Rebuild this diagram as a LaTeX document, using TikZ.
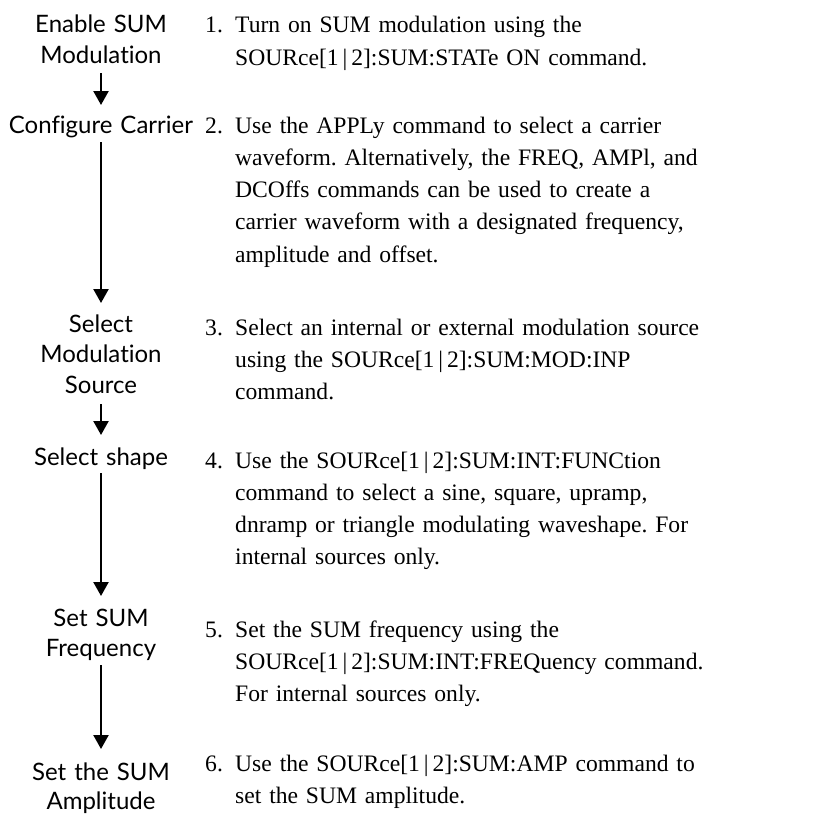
\documentclass[tikz,border=0pt]{standalone}
\usepackage{fontspec}
\setmainfont{Liberation Serif}
\newfontfamily\labfont[Ligatures=NoCommon]{Lato}
\usetikzlibrary{arrows.meta}
\frenchspacing
\newcommand{\pp}{[1\,|\,2]}
\tikzset{
  lab/.style={font=\labfont\fontsize{24}{30.5}\selectfont, align=center, text width=220pt, anchor=base, inner sep=0pt},
  num/.style={font=\fontsize{23.6}{32.3}\selectfont, anchor=base west, inner sep=0pt},
  body/.style={font=\fontsize{23.6}{32.3}\selectfont, anchor=base west, inner sep=0pt, text width=560pt, align=left},
  arr/.style={line width=2.3pt, -{Triangle[width=15pt,length=14pt]}}
}
\begin{document}
\begin{tikzpicture}[x=1pt,y=-1pt]
\useasboundingbox (0,0) rectangle (815,816);
% left labels
\node[lab] (l1) at (101,33) {Enable SUM\\Modulation};
\node[lab] (l2) at (101,133) {Configure Carrier};
\node[lab] (l3) at (101,332) {Select\\Modulation\\Source};
\node[lab] (l4) at (101,465) {Select shape};
\node[lab] (l5) at (101,626) {Set SUM\\Frequency};
\node[lab, font=\labfont\fontsize{24}{29}\selectfont] (l6) at (101,780) {Set the SUM\\Amplitude};
% arrow ends
\coordinate (a1s) at (101,73);  \coordinate (a1e) at (101,105);
\coordinate (a2s) at (101,142); \coordinate (a2e) at (101,303);
\coordinate (a3s) at (101,404); \coordinate (a3e) at (101,435);
\coordinate (a4s) at (101,473); \coordinate (a4e) at (101,596);
\coordinate (a5s) at (101,665); \coordinate (a5e) at (101,749);
\draw[arr] (a1s) -- (a1e);
\draw[arr] (a2s) -- (a2e);
\draw[arr] (a3s) -- (a3e);
\draw[arr] (a4s) -- (a4e);
\draw[arr] (a5s) -- (a5e);
% numbers
\node[num] (n1) at (205,33) {1.};
\node[num] (n2) at (205,133) {2.};
\node[num] (n3) at (205,335) {3.};
\node[num] (n4) at (205,468) {4.};
\node[num] (n5) at (205,637) {5.};
\node[num] (n6) at (205,771) {6.};
% body text
\node[body] (t1) at (235,33) {Turn on SUM modulation using the\\SOURce\pp:SUM:STATe ON command.};
\node[body] (t2) at (235,133) {Use the APPLy command to select a carrier\\waveform. Alternatively, the FREQ, AMPl, and\\DCOffs commands can be used to create a\\carrier waveform with a designated frequency,\\amplitude and offset.};
\node[body] (t3) at (235,335) {Select an internal or external modulation source\\using the SOURce\pp:SUM:MOD:INP\\command.};
\node[body] (t4) at (235,468) {Use the SOURce\pp:SUM:INT:FUNCtion\\command to select a sine, square, upramp,\\dnramp or triangle modulating waveshape. For\\internal sources only.};
\node[body] (t5) at (235,637) {Set the SUM frequency using the\\SOURce\pp:SUM:INT:FREQuency command.\\For internal sources only.};
\node[body] (t6) at (235,771) {Use the SOURce\pp:SUM:AMP command to\\set the SUM amplitude.};
\end{tikzpicture}
\end{document}
